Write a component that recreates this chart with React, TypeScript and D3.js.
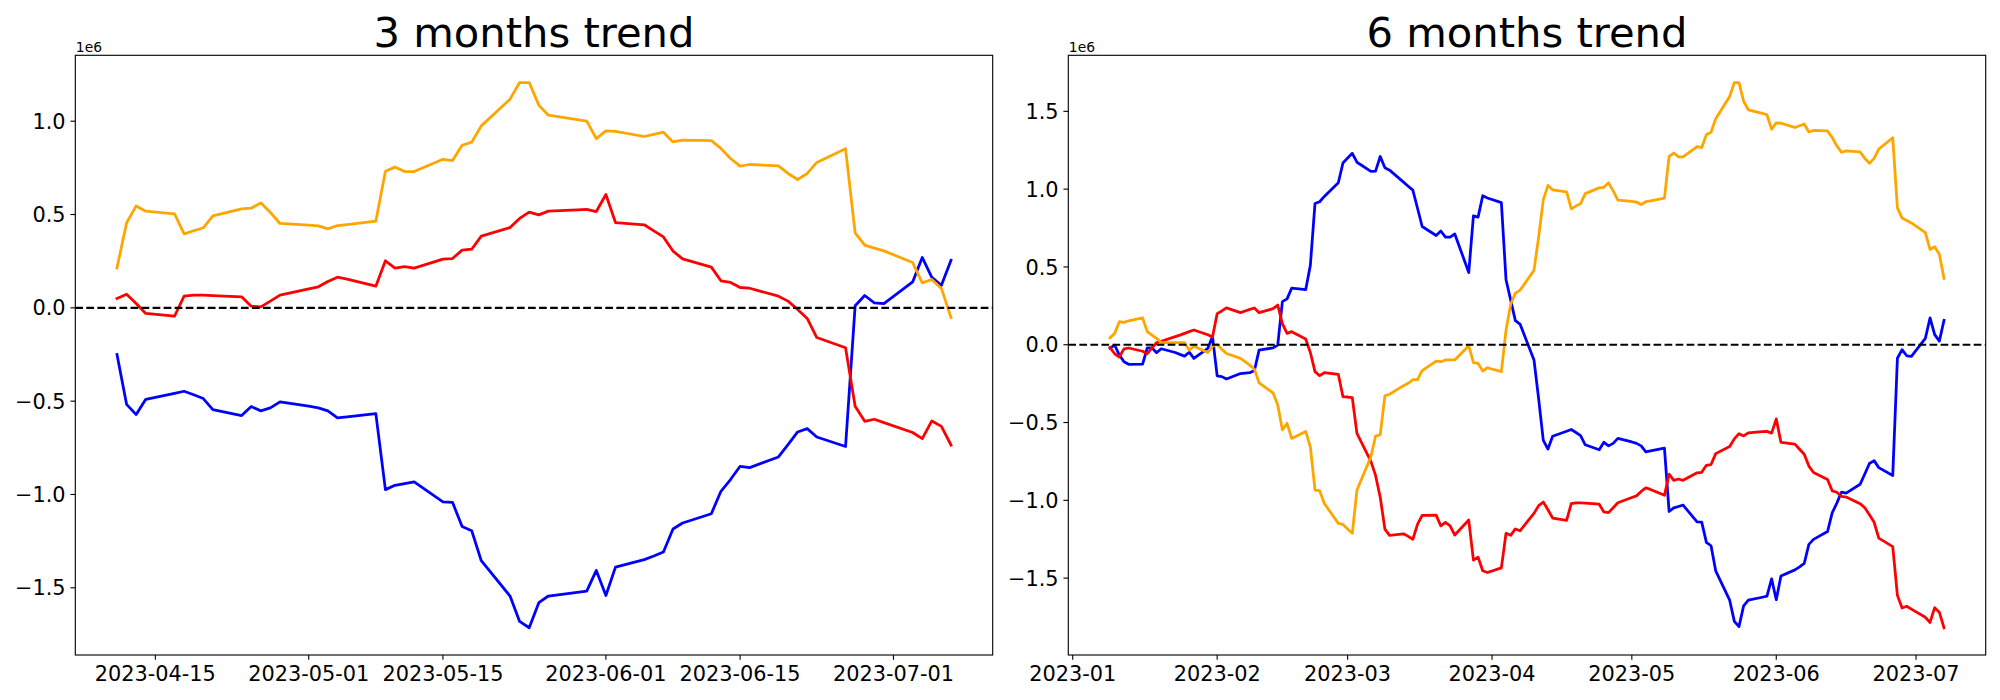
import React from "react";
import * as d3 from "d3";

// ---------- data (values in units of 1e6) ----------
const earlyDates = [
  "2023-01-09","2023-01-10","2023-01-11","2023-01-12","2023-01-13",
  "2023-01-16","2023-01-17","2023-01-18","2023-01-19","2023-01-20",
  "2023-01-23","2023-01-24","2023-01-25","2023-01-26","2023-01-27",
  "2023-01-30","2023-01-31","2023-02-01","2023-02-02","2023-02-03",
  "2023-02-06","2023-02-07","2023-02-08","2023-02-09","2023-02-10",
  "2023-02-13","2023-02-14","2023-02-15","2023-02-16","2023-02-17",
  "2023-02-20","2023-02-21","2023-02-22","2023-02-23","2023-02-24",
  "2023-02-27","2023-02-28","2023-03-01","2023-03-02","2023-03-03",
  "2023-03-06","2023-03-07","2023-03-08","2023-03-09","2023-03-10",
  "2023-03-13","2023-03-14","2023-03-15","2023-03-16","2023-03-17",
  "2023-03-20","2023-03-21","2023-03-22","2023-03-23","2023-03-24",
  "2023-03-27","2023-03-28","2023-03-29","2023-03-30","2023-03-31",
  "2023-04-03","2023-04-04","2023-04-05","2023-04-06","2023-04-07",
  "2023-04-10",
];

const lateDates = [
  "2023-04-11","2023-04-12","2023-04-13","2023-04-14",
  "2023-04-17","2023-04-18","2023-04-19","2023-04-20","2023-04-21",
  "2023-04-24","2023-04-25","2023-04-26","2023-04-27","2023-04-28",
  "2023-05-01","2023-05-02","2023-05-03","2023-05-04","2023-05-05",
  "2023-05-08","2023-05-09","2023-05-10","2023-05-11","2023-05-12",
  "2023-05-15","2023-05-16","2023-05-17","2023-05-18","2023-05-19",
  "2023-05-22","2023-05-23","2023-05-24","2023-05-25","2023-05-26",
  "2023-05-29","2023-05-30","2023-05-31","2023-06-01","2023-06-02",
  "2023-06-05","2023-06-06","2023-06-07","2023-06-08","2023-06-09",
  "2023-06-12","2023-06-13","2023-06-14","2023-06-15","2023-06-16",
  "2023-06-19","2023-06-20","2023-06-21","2023-06-22","2023-06-23",
  "2023-06-26","2023-06-27","2023-06-28","2023-06-29","2023-06-30",
  "2023-07-03","2023-07-04","2023-07-05","2023-07-06","2023-07-07",
];

// cumulative values Jan 9 .. Apr 10 (6-month window)
const blueEarly = [
  -0.022, -0.003, -0.066, -0.109, -0.126,
  -0.124, -0.02, -0.02, -0.051, -0.026,
  -0.05, -0.062, -0.073, -0.048, -0.088,
  -0.023, 0.052, -0.2, -0.205, -0.22,
  -0.185, -0.182, -0.18, -0.165, -0.035,
  -0.02, -0.002, 0.277, 0.295, 0.364,
  0.354, 0.51, 0.908, 0.919, 0.953,
  1.041, 1.168, 1.2, 1.23, 1.173,
  1.114, 1.116, 1.21, 1.137, 1.122,
  1.045, 1.019, 0.994, 0.877, 0.76,
  0.702, 0.731, 0.692, 0.692, 0.712,
  0.464, 0.828, 0.82, 0.958, 0.943,
  0.913, 0.418, 0.287, 0.155, 0.133,
  -0.098,
];
const redEarly = [
  -0.018, -0.058, -0.079, -0.027, -0.021,
  -0.042, -0.058, -0.02, 0.013, 0.022,
  0.052, 0.062, 0.073, 0.084, 0.095,
  0.064, 0.05, 0.2, 0.217, 0.237,
  0.206, 0.217, 0.227, 0.236, 0.206,
  0.232, 0.255, 0.135, 0.073, 0.084,
  0.037, -0.05, -0.173, -0.199, -0.18,
  -0.19, -0.334, -0.336, -0.34, -0.57,
  -0.75, -0.84, -0.98, -1.185, -1.225,
  -1.215, -1.232, -1.25, -1.155, -1.097,
  -1.095, -1.164, -1.142, -1.164, -1.223,
  -1.127, -1.384, -1.366, -1.453, -1.464,
  -1.434, -1.212, -1.225, -1.184, -1.196,
  -1.084,
];
const orangeEarly = [
  0.045, 0.073, 0.148, 0.144, 0.154,
  0.172, 0.084, 0.062, 0.041, 0.013,
  0.013, 0.013, 0.013, -0.035, -0.01,
  -0.05, -0.01, 0.002, -0.03, -0.056,
  -0.088, -0.109, -0.131, -0.158, -0.245,
  -0.31, -0.388, -0.548, -0.505, -0.602,
  -0.557, -0.656, -0.934, -0.938, -1.02,
  -1.148, -1.155, -1.185, -1.212, -0.934,
  -0.72, -0.587, -0.578, -0.328, -0.318,
  -0.263, -0.248, -0.225, -0.225, -0.166,
  -0.106, -0.109, -0.098, -0.098, -0.098,
  -0.006, -0.115, -0.12, -0.169, -0.148,
  -0.173, 0.095, 0.26, 0.332, 0.35,
  0.478,
];

// cumulative values Apr 11 .. Jul 7 (3-month window)
const blue3m = [
  -0.25, -0.517, -0.572, -0.49,
  -0.458, -0.447, -0.466, -0.486, -0.545,
  -0.577, -0.529, -0.552, -0.536, -0.504,
  -0.527, -0.536, -0.552, -0.59, -0.584,
  -0.567, -0.974, -0.951, -0.942, -0.933,
  -1.04, -1.042, -1.172, -1.194, -1.355,
  -1.544, -1.68, -1.714, -1.58, -1.544,
  -1.525, -1.518, -1.407, -1.541, -1.389,
  -1.349, -1.33, -1.308, -1.185, -1.153,
  -1.103, -0.983, -0.92, -0.849, -0.856,
  -0.799, -0.733, -0.665, -0.647, -0.692,
  -0.743, 0.011, 0.066, 0.027, 0.023,
  0.139, 0.27, 0.163, 0.121, 0.255,
];
const red3m = [
  0.05, 0.073, 0.023, -0.03,
  -0.045, 0.0625, 0.068, 0.068, 0.066,
  0.059, 0.009, 0.005, 0.036, 0.068,
  0.102, 0.1125, 0.141, 0.164, 0.154,
  0.116, 0.252, 0.2125, 0.221, 0.2125,
  0.261, 0.264, 0.309, 0.314, 0.384,
  0.43, 0.479, 0.5125, 0.498, 0.518,
  0.525, 0.527, 0.516, 0.607, 0.457,
  0.445, 0.4125, 0.38, 0.304, 0.2625,
  0.218, 0.145, 0.136, 0.109, 0.105,
  0.0625, 0.036, -0.009, -0.057, -0.159,
  -0.214, -0.527, -0.608, -0.597, -0.615,
  -0.668, -0.701, -0.606, -0.635, -0.735,
];
const orange3m = [
  0.214, 0.455, 0.546, 0.518,
  0.504, 0.396, 0.413, 0.429, 0.493,
  0.53, 0.534, 0.5625, 0.511, 0.452,
  0.443, 0.439, 0.423, 0.441, 0.446,
  0.464, 0.732, 0.754, 0.73, 0.73,
  0.796, 0.789, 0.871, 0.8875, 0.975,
  1.118, 1.207, 1.207, 1.086, 1.032,
  1.009, 1.0, 0.907, 0.948, 0.946,
  0.918, 0.929, 0.941, 0.889, 0.899,
  0.896, 0.854, 0.8, 0.759, 0.768,
  0.761, 0.72, 0.6875, 0.72, 0.779,
  0.852, 0.402, 0.336, 0.32, 0.305,
  0.243, 0.134, 0.152, 0.104, -0.052,
];

// 6-month window continues the same cumulative series after Apr 10
const blue6m = blueEarly.concat(blue3m.map((v) => v + blueEarly[blueEarly.length - 1]));
const red6m = redEarly.concat(red3m.map((v) => v + redEarly[redEarly.length - 1]));
const orange6m = orangeEarly.concat(orange3m.map((v) => v + orangeEarly[orangeEarly.length - 1]));
const dates6m = earlyDates.concat(lateDates);

const titles = ["3 months trend", "6 months trend"];
const xTicks3m = ["2023-04-15", "2023-05-01", "2023-05-15", "2023-06-01", "2023-06-15", "2023-07-01"];
const xTicks6m = ["2023-01", "2023-02", "2023-03", "2023-04", "2023-05", "2023-06", "2023-07"];
const yTicks3m = [-1.5, -1.0, -0.5, 0.0, 0.5, 1.0];
const yTicks6m = [-1.5, -1.0, -0.5, 0.0, 0.5, 1.0, 1.5];
const offsetLabel = "1e6";

// ---------- styling ----------
const SERIES_COLORS = ["blue", "red", "orange"];
const FONT = "'DejaVu Sans', sans-serif";
const PT = 100 / 72;

const parseDay = d3.utcParse("%Y-%m-%d");
const parseMonth = d3.utcParse("%Y-%m");

type PanelProps = {
  left: number;
  top: number;
  width: number;
  height: number;
  title: string;
  dates: string[];
  series: number[][];
  xTicks: string[];
  yTicks: number[];
};

function Panel({ left, top, width, height, title, dates, series, xTicks, yTicks }: PanelProps) {
  const xs = dates.map((d) => parseDay(d) as Date);
  const xExt = d3.extent(xs) as [Date, Date];
  const xPad = (+xExt[1] - +xExt[0]) * 0.05;
  const x = d3
    .scaleUtc()
    .domain([new Date(+xExt[0] - xPad), new Date(+xExt[1] + xPad)])
    .range([0, width]);

  const allVals = series.flat();
  const yExt = d3.extent(allVals) as [number, number];
  const yPad = (yExt[1] - yExt[0]) * 0.05;
  const y = d3.scaleLinear().domain([yExt[0] - yPad, yExt[1] + yPad]).range([height, 0]);

  const line = d3
    .line<number>()
    .x((_, i) => x(xs[i]))
    .y((v) => y(v));

  const tickLen = 3.5 * PT;
  const tickPad = 3.5 * PT;
  const tickFont = 15 * PT;
  const fmt = d3.format(".1f");

  const parseTick = (s: string) => (s.length === 7 ? parseMonth(s) : parseDay(s)) as Date;

  return (
    <g transform={`translate(${left},${top})`}>
      {series.map((vals, i) => (
        <path
          key={i}
          d={line(vals) || ""}
          fill="none"
          stroke={SERIES_COLORS[i]}
          strokeWidth={2 * PT}
          strokeLinejoin="round"
          strokeLinecap="square"
        />
      ))}
      <line
        x1={0}
        x2={width}
        y1={y(0)}
        y2={y(0)}
        stroke="black"
        strokeWidth={1.5 * PT}
        strokeDasharray={`${3.7 * 1.5 * PT} ${1.6 * 1.5 * PT}`}
      />
      <rect x={0} y={0} width={width} height={height} fill="none" stroke="black" strokeWidth={0.8 * PT} />
      {xTicks.map((t) => {
        const px = x(parseTick(t));
        return (
          <g key={t}>
            <line x1={px} x2={px} y1={height} y2={height + tickLen} stroke="black" strokeWidth={0.8 * PT} />
            <text
              x={px}
              y={height + tickLen + tickPad + 0.76 * tickFont}
              textAnchor="middle"
              fontFamily={FONT}
              fontSize={tickFont}
              fill="black"
            >
              {t}
            </text>
          </g>
        );
      })}
      {yTicks.map((t) => {
        const py = y(t);
        return (
          <g key={t}>
            <line x1={-tickLen} x2={0} y1={py} y2={py} stroke="black" strokeWidth={0.8 * PT} />
            <text
              x={-tickLen - tickPad}
              y={py + 0.365 * tickFont}
              textAnchor="end"
              fontFamily={FONT}
              fontSize={tickFont}
              fill="black"
            >
              {fmt(t).replace("-", "\u2212")}
            </text>
          </g>
        );
      })}
      <text x={0.5} y={-3.8} fontFamily={FONT} fontSize={10 * PT} fill="black">
        {offsetLabel}
      </text>
      <text
        x={width / 2}
        y={-6 * PT - 0.3}
        textAnchor="middle"
        fontFamily={FONT}
        fontSize={30 * PT}
        fill="black"
      >
        {title}
      </text>
    </g>
  );
}

export default function App() {
  const top = 55.3;
  const height = 599.7;
  const width = 917.4;
  return (
    <svg
      width={2000}
      height={700}
      viewBox="0 0 2000 700"
      style={{ position: "absolute", left: 0, top: 0, display: "block", background: "white" }}
    >
      <rect x={0} y={0} width={2000} height={700} fill="white" />
      <Panel
        left={75.3}
        top={top}
        width={width}
        height={height}
        title={titles[0]}
        dates={lateDates}
        series={[blue3m, red3m, orange3m]}
        xTicks={xTicks3m}
        yTicks={yTicks3m}
      />
      <Panel
        left={1068.3}
        top={top}
        width={width}
        height={height}
        title={titles[1]}
        dates={dates6m}
        series={[blue6m, red6m, orange6m]}
        xTicks={xTicks6m}
        yTicks={yTicks6m}
      />
    </svg>
  );
}
